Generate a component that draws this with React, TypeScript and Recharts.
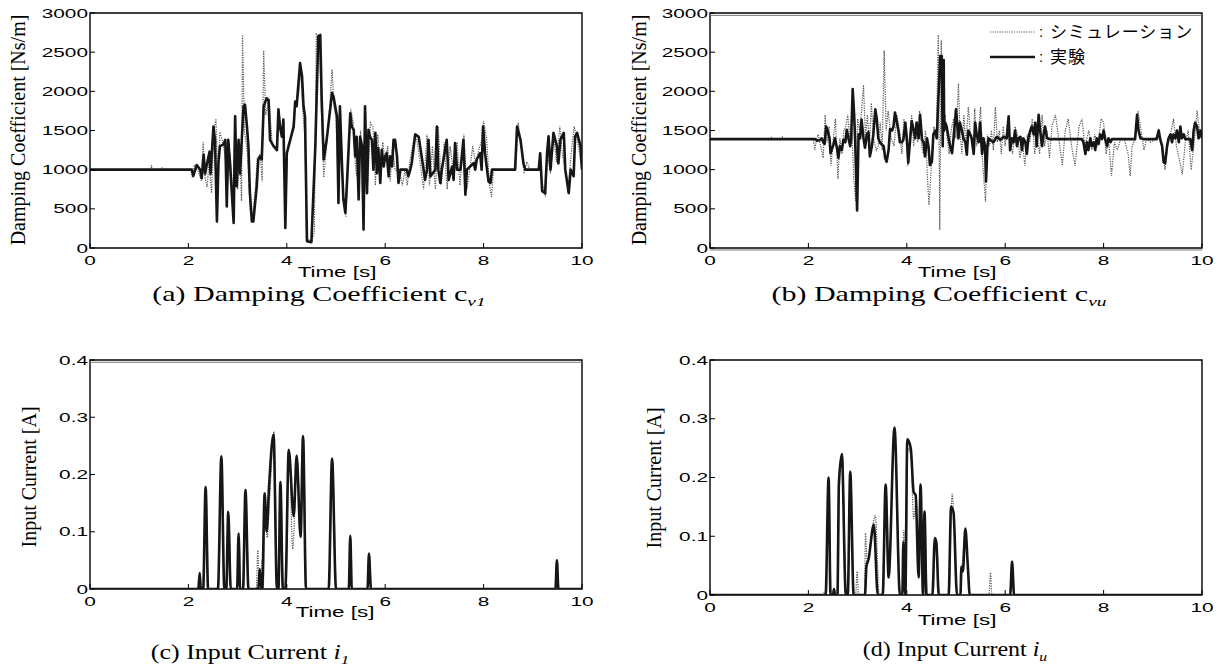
import React from "react";
import { LineChart, Line, XAxis, YAxis, ReferenceArea, ReferenceLine } from "recharts";

const timeTicks = [0, 2, 4, 6, 8, 10];
const dampingTicks = [0, 500, 1000, 1500, 2000, 2500, 3000];
const currentTicks = [0, 0.1, 0.2, 0.3, 0.4];

const legendSim = "シミュレーション";
const legendExp = "実験";

// (a) damping coefficient c_v1 : [time, value]
const simA = [
  [0, 1000], [1.24, 1000], [1.25, 1060], [1.26, 1000], [1.46, 1000], [1.47, 1030], [1.48, 1000],
  [2.05, 1000], [2.08, 900], [2.12, 1050], [2.2, 980], [2.26, 860], [2.3, 1350], [2.34, 900],
  [2.38, 780], [2.42, 1100], [2.47, 700], [2.52, 1500], [2.56, 1650], [2.6, 800], [2.64, 1480],
  [2.7, 1350], [2.75, 1150], [2.8, 800], [2.85, 1200], [2.9, 620], [2.95, 1700], [3.0, 750],
  [3.05, 1150], [3.08, 600], [3.1, 2720], [3.14, 1500], [3.2, 1200], [3.26, 450], [3.3, 380],
  [3.36, 750], [3.4, 1150], [3.46, 1200], [3.5, 850], [3.53, 2520], [3.57, 1700], [3.64, 1900],
  [3.7, 1350], [3.78, 1250], [3.84, 1750], [3.9, 1450], [3.94, 1600], [3.97, 350], [4.02, 1300],
  [4.1, 1450], [4.18, 1850], [4.24, 1950], [4.28, 2300], [4.33, 1700], [4.37, 1400], [4.4, 120],
  [4.5, 80], [4.56, 200], [4.6, 2730], [4.66, 2700], [4.7, 1800], [4.75, 900], [4.8, 1250],
  [4.86, 1700], [4.92, 2280], [4.96, 1800], [5.0, 1650], [5.04, 800], [5.1, 1500], [5.15, 650],
  [5.2, 400], [5.26, 1200], [5.3, 1780], [5.35, 1600], [5.4, 1000], [5.45, 850], [5.5, 1500],
  [5.55, 350], [5.6, 1750], [5.65, 850], [5.7, 1600], [5.75, 1550], [5.8, 800], [5.85, 1450],
  [5.9, 900], [5.95, 1350], [6.0, 1100], [6.05, 1300], [6.1, 850], [6.15, 1300], [6.2, 1000],
  [6.3, 950], [6.35, 800], [6.4, 1000], [6.45, 800], [6.5, 1100], [6.6, 1450], [6.65, 1350],
  [6.72, 1050], [6.78, 750], [6.85, 1450], [6.9, 800], [6.96, 1300], [7.02, 750], [7.08, 1550],
  [7.14, 800], [7.2, 1350], [7.26, 750], [7.32, 1300], [7.4, 900], [7.46, 1350], [7.52, 800],
  [7.6, 1450], [7.66, 750], [7.72, 1000], [7.78, 1300], [7.84, 1050], [7.9, 1250], [7.95, 1350],
  [8.0, 1620], [8.06, 1400], [8.12, 800], [8.16, 650], [8.2, 1000], [8.65, 1000], [8.7, 1600],
  [8.76, 1350], [8.82, 950], [8.88, 1100], [8.94, 1000], [9.15, 1000], [9.2, 800], [9.26, 650],
  [9.3, 1200], [9.36, 950], [9.42, 1450], [9.48, 1100], [9.55, 1550], [9.6, 1200], [9.66, 1000],
  [9.72, 800], [9.78, 1200], [9.84, 1550], [9.9, 1400], [9.95, 1200], [10, 1000],
];
const expA = [
  [0, 1000], [2.07, 1000], [2.1, 920], [2.17, 1060], [2.24, 1000], [2.27, 890], [2.31, 1190],
  [2.34, 950], [2.37, 1050], [2.43, 1230], [2.45, 950], [2.51, 1550], [2.54, 1380], [2.58, 340],
  [2.61, 1080], [2.64, 1300], [2.71, 1320], [2.75, 1380], [2.78, 530], [2.81, 1380], [2.85, 1040],
  [2.92, 320], [2.95, 1680], [2.98, 790], [3.02, 1380], [3.05, 950], [3.12, 1810], [3.15, 1830],
  [3.19, 1550], [3.22, 1300], [3.25, 700], [3.29, 340], [3.32, 340], [3.39, 790], [3.42, 1130],
  [3.46, 1170], [3.49, 1130], [3.53, 1810], [3.59, 1910], [3.63, 1890], [3.66, 1380], [3.73, 1300],
  [3.8, 1250], [3.83, 1770], [3.86, 1550], [3.9, 1420], [3.93, 1640], [3.97, 255], [4.0, 1210],
  [4.07, 1380], [4.14, 1550], [4.17, 1870], [4.2, 1810], [4.27, 2360], [4.31, 2190], [4.34, 1810],
  [4.37, 1680], [4.41, 85], [4.5, 75], [4.58, 1300], [4.64, 2700], [4.68, 2720], [4.71, 1890],
  [4.75, 1130], [4.81, 1380], [4.92, 1980], [4.95, 1930], [5.02, 1680], [5.05, 575], [5.08, 1810],
  [5.12, 1085], [5.15, 620], [5.19, 450], [5.22, 790], [5.29, 1720], [5.32, 1550], [5.36, 1510],
  [5.39, 1170], [5.42, 1420], [5.46, 620], [5.49, 1420], [5.53, 1300], [5.56, 235], [5.59, 1810],
  [5.63, 700], [5.66, 1510], [5.69, 1420], [5.73, 1380], [5.76, 1000], [5.8, 1470], [5.83, 955],
  [5.86, 1275], [5.9, 830], [5.93, 1255], [5.97, 1040], [6.0, 1170], [6.03, 1210], [6.07, 915],
  [6.1, 1170], [6.14, 1040], [6.17, 1380], [6.2, 1380], [6.24, 1170], [6.27, 830], [6.31, 1000],
  [6.44, 1000], [6.47, 915], [6.51, 1000], [6.54, 1085], [6.61, 1450], [6.68, 1420], [6.75, 1130],
  [6.78, 1000], [6.81, 870], [6.85, 1000], [6.88, 1380], [6.92, 915], [7.02, 1000], [7.05, 1550],
  [7.08, 1000], [7.12, 830], [7.15, 1000], [7.25, 1380], [7.29, 870], [7.36, 1040], [7.39, 870],
  [7.42, 1340], [7.46, 1000], [7.53, 1000], [7.59, 1380], [7.63, 680], [7.66, 1000], [7.8, 1085],
  [7.83, 1000], [7.86, 1130], [7.93, 1210], [7.96, 1000], [7.99, 1550], [8.03, 1210], [8.07, 1000],
  [8.1, 850], [8.14, 830], [8.17, 1000], [8.64, 1000], [8.68, 1550], [8.75, 1380], [8.81, 1080],
  [8.85, 1000], [9.12, 1000], [9.15, 1210], [9.19, 725], [9.25, 700], [9.29, 1210], [9.32, 1425],
  [9.36, 1000], [9.42, 1470], [9.49, 1300], [9.52, 1080], [9.56, 1380], [9.63, 1470], [9.66, 1000],
  [9.73, 700], [9.77, 1000], [9.83, 915], [9.86, 1425], [9.9, 1470], [9.97, 1300], [10, 1000],
];

// (b) damping coefficient c_vu
const simB = [
  [0, 1390], [1.24, 1390], [1.25, 1420], [1.26, 1390], [1.46, 1390], [1.47, 1410], [1.48, 1390],
  [2.1, 1390], [2.13, 1250], [2.17, 1400], [2.2, 1450], [2.25, 1300], [2.3, 1150], [2.34, 1700],
  [2.38, 1350], [2.42, 1550], [2.46, 1050], [2.5, 1350], [2.55, 1650], [2.6, 880], [2.64, 1400],
  [2.68, 1200], [2.72, 1500], [2.76, 1550], [2.8, 1700], [2.84, 1400], [2.88, 1600], [2.92, 900],
  [2.96, 600], [3.0, 1650], [3.04, 1500], [3.08, 1750], [3.12, 2080], [3.16, 1400], [3.2, 1700],
  [3.24, 1300], [3.28, 1850], [3.32, 1400], [3.38, 1250], [3.42, 1300], [3.46, 1600], [3.5, 1250],
  [3.54, 2520], [3.58, 1500], [3.62, 1750], [3.68, 1400], [3.74, 1300], [3.8, 1700], [3.86, 1450],
  [3.9, 1200], [3.94, 1650], [3.98, 1500], [4.02, 1050], [4.06, 1450], [4.1, 1700], [4.14, 1300],
  [4.18, 1600], [4.22, 1350], [4.26, 1750], [4.3, 1300], [4.34, 1200], [4.38, 1500], [4.42, 900],
  [4.45, 550], [4.5, 1050], [4.55, 1550], [4.6, 1400], [4.64, 2720], [4.67, 230], [4.7, 2650],
  [4.74, 1400], [4.78, 1700], [4.82, 1400], [4.86, 1200], [4.9, 1500], [4.95, 1650], [5.0, 1400],
  [5.05, 2100], [5.08, 1500], [5.12, 1200], [5.16, 1700], [5.2, 1300], [5.25, 1800], [5.3, 1400],
  [5.34, 1250], [5.38, 1780], [5.42, 1300], [5.46, 1500], [5.5, 1800], [5.54, 1100], [5.6, 590],
  [5.64, 1450], [5.68, 1300], [5.72, 1500], [5.76, 1250], [5.8, 1800], [5.84, 1350], [5.88, 1500],
  [5.92, 1200], [5.96, 1550], [6.0, 1300], [6.05, 1600], [6.1, 1350], [6.15, 1200], [6.2, 1550],
  [6.25, 1450], [6.3, 1150], [6.35, 1350], [6.4, 1050], [6.45, 1450], [6.5, 1350], [6.55, 1650],
  [6.6, 1200], [6.65, 1400], [6.7, 1200], [6.75, 1700], [6.8, 1300], [6.85, 1500], [6.9, 1150],
  [6.95, 1550], [7.02, 1700], [7.1, 1350], [7.16, 1050], [7.22, 1500], [7.28, 1650], [7.35, 1300],
  [7.42, 1050], [7.5, 1550], [7.56, 1650], [7.62, 1300], [7.7, 1500], [7.76, 1250], [7.82, 1450],
  [7.88, 1300], [7.95, 1650], [8.0, 1600], [8.05, 1200], [8.1, 1400], [8.16, 920], [8.22, 1350],
  [8.28, 1250], [8.35, 1400], [8.42, 1390], [8.5, 1200], [8.54, 920], [8.58, 1300], [8.64, 1390],
  [8.7, 1750], [8.76, 1500], [8.82, 1250], [8.88, 1400], [8.95, 1350], [9.05, 1390], [9.12, 1500],
  [9.18, 1300], [9.25, 1000], [9.3, 1300], [9.36, 1450], [9.42, 1650], [9.48, 1300], [9.55, 1100],
  [9.6, 940], [9.66, 1350], [9.72, 1500], [9.78, 1000], [9.85, 1400], [9.9, 1750], [9.95, 1500],
  [10, 1400],
];
const expB = [
  [0, 1390], [2.14, 1390], [2.17, 1370], [2.24, 1380], [2.27, 1400], [2.31, 1340], [2.33, 1330],
  [2.36, 1550], [2.39, 1500], [2.43, 1400], [2.45, 1210], [2.51, 1320], [2.54, 1400], [2.58, 1280],
  [2.61, 1150], [2.64, 1300], [2.68, 1250], [2.71, 1380], [2.75, 1350], [2.78, 1510], [2.81, 1410],
  [2.85, 1300], [2.87, 1400], [2.9, 2030], [2.93, 1700], [2.95, 1380], [2.99, 480], [3.02, 1450],
  [3.05, 1400], [3.08, 1640], [3.12, 1400], [3.15, 1280], [3.19, 1450], [3.22, 1480], [3.25, 1170],
  [3.29, 1300], [3.32, 1450], [3.36, 1770], [3.39, 1650], [3.42, 1400], [3.46, 1340], [3.53, 1300],
  [3.56, 1150], [3.59, 1100], [3.63, 1250], [3.66, 1520], [3.7, 1500], [3.73, 1550], [3.76, 1730],
  [3.8, 1600], [3.83, 1500], [3.86, 1350], [3.9, 1350], [3.93, 1380], [3.97, 1600], [4.0, 1400],
  [4.03, 1090], [4.07, 1400], [4.1, 1620], [4.14, 1500], [4.17, 1400], [4.2, 1600], [4.24, 1400],
  [4.27, 1700], [4.31, 1380], [4.34, 1350], [4.37, 1170], [4.41, 1400], [4.44, 1300], [4.47, 1060],
  [4.51, 1100], [4.54, 1450], [4.58, 1500], [4.61, 1400], [4.64, 1890], [4.68, 2450], [4.71, 2450],
  [4.73, 1300], [4.75, 2400], [4.76, 1500], [4.78, 1600], [4.81, 1550], [4.85, 1400], [4.88, 1300],
  [4.92, 1210], [4.95, 1400], [5.0, 1770], [5.05, 1400], [5.08, 1600], [5.12, 1500], [5.15, 1400],
  [5.19, 1350], [5.22, 1190], [5.25, 1500], [5.29, 1450], [5.32, 1400], [5.36, 1200], [5.39, 1600],
  [5.42, 1450], [5.46, 1350], [5.49, 1600], [5.53, 1200], [5.56, 1400], [5.59, 1300], [5.61, 850],
  [5.64, 1300], [5.66, 1400], [5.69, 1380], [5.76, 1350], [5.83, 1420], [5.9, 1380], [5.97, 1420],
  [6.03, 1400], [6.07, 1680], [6.1, 1250], [6.14, 1400], [6.17, 1350], [6.2, 1500], [6.24, 1300],
  [6.27, 1400], [6.31, 1420], [6.34, 1250], [6.37, 1400], [6.41, 1350], [6.44, 1200], [6.47, 1400],
  [6.51, 1500], [6.54, 1550], [6.58, 1450], [6.61, 1600], [6.64, 1300], [6.68, 1700], [6.71, 1500],
  [6.75, 1300], [6.78, 1450], [6.81, 1550], [6.85, 1400], [6.92, 1390], [7.56, 1390], [7.59, 1350],
  [7.63, 1200], [7.66, 1350], [7.69, 1250], [7.73, 1400], [7.76, 1300], [7.8, 1350], [7.83, 1250],
  [7.86, 1400], [7.9, 1330], [7.93, 1450], [7.97, 1390], [8.0, 1500], [8.03, 1400], [8.07, 1300],
  [8.1, 1400], [8.14, 1350], [8.17, 1390], [8.64, 1390], [8.68, 1700], [8.71, 1500], [8.75, 1400],
  [8.81, 1390], [9.08, 1390], [9.12, 1500], [9.15, 1390], [9.19, 1300], [9.22, 1100], [9.25, 1080],
  [9.29, 1300], [9.32, 1400], [9.36, 1450], [9.39, 1350], [9.42, 1450], [9.46, 1400], [9.49, 1500],
  [9.53, 1350], [9.56, 1550], [9.59, 1400], [9.63, 1450], [9.66, 1390], [9.76, 1390], [9.8, 1250],
  [9.83, 1500], [9.86, 1600], [9.9, 1550], [9.93, 1400], [9.97, 1500], [10, 1400],
];

// (c) input current i_1
const simC = [
  [0, 0], [2.21, 0], [2.24, 0.025], [2.26, 0], [2.31, 0], [2.36, 0.17], [2.41, 0], [2.61, 0],
  [2.68, 0.225], [2.74, 0], [2.78, 0], [2.82, 0.13], [2.87, 0], [3.0, 0], [3.03, 0.09], [3.06, 0],
  [3.12, 0], [3.17, 0.165], [3.23, 0], [3.38, 0], [3.41, 0.068], [3.44, 0], [3.47, 0], [3.5, 0.05],
  [3.52, 0], [3.56, 0.15], [3.6, 0.09], [3.66, 0.17], [3.74, 0.275], [3.81, 0], [3.84, 0],
  [3.88, 0.18], [3.93, 0], [3.98, 0], [4.05, 0.235], [4.12, 0.07], [4.21, 0.225], [4.29, 0.1],
  [4.34, 0.26], [4.4, 0], [4.86, 0], [4.93, 0.22], [5.01, 0], [5.27, 0], [5.3, 0.09], [5.33, 0],
  [5.65, 0], [5.68, 0.058], [5.72, 0], [9.47, 0], [9.5, 0.045], [9.53, 0], [10, 0],
];
const expC = [
  [0, 0], [2.2, 0], [2.23, 0.028], [2.25, 0], [2.3, 0], [2.35, 0.178], [2.4, 0], [2.6, 0],
  [2.67, 0.232], [2.73, 0], [2.77, 0], [2.81, 0.135], [2.86, 0], [2.99, 0], [3.02, 0.097],
  [3.05, 0], [3.11, 0], [3.16, 0.173], [3.22, 0], [3.42, 0], [3.45, 0.035], [3.48, 0], [3.5, 0],
  [3.55, 0.167], [3.59, 0.1], [3.64, 0.18], [3.73, 0.27], [3.8, 0], [3.83, 0], [3.87, 0.187],
  [3.92, 0], [3.97, 0], [4.04, 0.243], [4.14, 0.127], [4.2, 0.233], [4.28, 0.091], [4.33, 0.267],
  [4.39, 0], [4.85, 0], [4.92, 0.228], [5.0, 0], [5.26, 0], [5.29, 0.093], [5.32, 0], [5.64, 0],
  [5.67, 0.062], [5.71, 0], [9.46, 0], [9.49, 0.05], [9.52, 0], [10, 0],
];

// (d) input current i_u
const simD = [
  [0, 0], [2.3, 0], [2.32, 0.005], [2.36, 0], [2.42, 0.19], [2.46, 0], [2.6, 0], [2.63, 0.185],
  [2.69, 0.235], [2.77, 0], [2.81, 0], [2.86, 0.195], [2.93, 0], [2.96, 0], [2.99, 0.04], [3.02, 0],
  [3.14, 0], [3.16, 0.105], [3.2, 0.05], [3.25, 0.08], [3.36, 0.135], [3.44, 0], [3.52, 0],
  [3.58, 0.175], [3.64, 0.05], [3.75, 0.28], [3.87, 0], [3.9, 0], [3.94, 0.11], [3.98, 0],
  [4.02, 0.25], [4.08, 0.24], [4.14, 0.13], [4.19, 0.16], [4.25, 0.04], [4.28, 0.17], [4.34, 0],
  [4.37, 0.13], [4.41, 0], [4.53, 0], [4.58, 0.09], [4.61, 0.085], [4.66, 0], [4.86, 0],
  [4.92, 0.172], [4.96, 0.13], [5.03, 0], [5.1, 0], [5.12, 0.04], [5.2, 0.105], [5.25, 0.03],
  [5.29, 0], [5.67, 0], [5.7, 0.038], [5.73, 0], [6.11, 0], [6.15, 0.05], [6.19, 0], [10, 0],
];
const expD = [
  [0, 0], [2.35, 0], [2.41, 0.2], [2.45, 0], [2.5, 0], [2.52, 0.01], [2.54, 0], [2.59, 0],
  [2.62, 0.19], [2.68, 0.24], [2.76, 0], [2.8, 0], [2.85, 0.21], [2.92, 0], [3.15, 0], [3.18, 0.05],
  [3.22, 0.06], [3.33, 0.12], [3.41, 0], [3.51, 0], [3.57, 0.188], [3.63, 0.03], [3.75, 0.285],
  [3.86, 0], [3.91, 0], [3.93, 0.09], [3.97, 0], [4.01, 0.265], [4.08, 0.25], [4.14, 0.175],
  [4.18, 0.17], [4.24, 0.03], [4.28, 0.188], [4.33, 0], [4.36, 0.142], [4.4, 0], [4.52, 0],
  [4.57, 0.097], [4.6, 0.09], [4.65, 0], [4.85, 0], [4.9, 0.15], [4.95, 0.14], [5.02, 0], [5.09, 0],
  [5.11, 0.048], [5.14, 0.04], [5.19, 0.113], [5.24, 0.05], [5.28, 0], [6.1, 0], [6.14, 0.057],
  [6.18, 0], [10, 0],
];

const toPoints = (rows: number[][]) => rows.map(([t, v]) => ({ t, v }));

const SANS = "'Liberation Sans', Arial, sans-serif";
const SERIF = "'Liberation Serif', 'Times New Roman', serif";
const JP = "'Noto Sans CJK JP', sans-serif";

// MATLAB style: ticks point inside, labels are wide helvetica
const BottomTick = ({ x, y, payload }: any) => (
  <g>
    <line x1={x} x2={x} y1={y} y2={y - 5} stroke="#000" />
    <text transform={`translate(${x},${y + 17}) scale(1.6,1)`} textAnchor="middle"
      fontSize={13} fontFamily={SANS} fill="#000">{payload.value}</text>
  </g>
);
const LeftTick = ({ x, y, payload }: any) => (
  <g>
    <line x1={x} x2={x + 5} y1={y} y2={y} stroke="#000" />
    <text transform={`translate(${x - 2},${y + 4.6}) scale(1.6,1)`} textAnchor="end"
      fontSize={13} fontFamily={SANS} fill="#000">{payload.value}</text>
  </g>
);
const TopTick = ({ x, y }: any) => <line x1={x} x2={x} y1={y} y2={y + 5} stroke="#000" />;
const RightTick = ({ x, y }: any) => <line x1={x} x2={x - 5} y1={y} y2={y} stroke="#000" />;

type PanelProps = {
  left: number;
  top: number;
  width: number;
  height: number;
  margin: { top: number; right: number; bottom: number; left: number };
  yMax: number;
  yTicks: number[];
  sim: number[][];
  exp: number[][];
  curve: "linear" | "monotone";
  edgeLines?: number[]; // faint second rule next to the frame, as in the scanned figure
};

// every axis is 1px thick so that recharts still renders its ticks; margins are reduced by 1
const Panel = ({ left, top, width, height, margin, yMax, yTicks, sim, exp, curve, edgeLines = [] }: PanelProps) => (
  <div style={{ position: "absolute", left, top }}>
    <LineChart width={width} height={height}
      margin={{ top: margin.top - 1, right: margin.right - 1, bottom: margin.bottom - 1, left: margin.left - 1 }}>
      <XAxis type="number" dataKey="t" domain={[0, 10]} ticks={timeTicks} interval={0}
        height={1} tickSize={0} tickMargin={0} axisLine={false} tickLine={false}
        tick={(p: any) => <BottomTick {...p} />} allowDataOverflow />
      <XAxis xAxisId="top" orientation="top" type="number" dataKey="t" domain={[0, 10]}
        ticks={timeTicks} interval={0} height={1} tickSize={0} tickMargin={0}
        axisLine={false} tickLine={false} tick={(p: any) => <TopTick {...p} />} />
      <YAxis type="number" domain={[0, yMax]} ticks={yTicks} interval={0} width={1}
        tickSize={0} tickMargin={0} axisLine={false} tickLine={false}
        tick={(p: any) => <LeftTick {...p} />} allowDataOverflow />
      <YAxis yAxisId="right" orientation="right" type="number" domain={[0, yMax]} ticks={yTicks}
        interval={0} width={1} tickSize={0} tickMargin={0} axisLine={false} tickLine={false}
        tick={(p: any) => <RightTick {...p} />} />
      <Line data={toPoints(sim)} dataKey="v" type={curve} stroke="#555" strokeWidth={1.2}
        strokeDasharray="1.2 1.2" dot={false} activeDot={false} isAnimationActive={false} />
      <Line data={toPoints(exp)} dataKey="v" type={curve} stroke="#161616" strokeWidth={2.6}
        strokeLinejoin="round" dot={false} activeDot={false} isAnimationActive={false} />
      {edgeLines.map((v) => (
        <ReferenceLine key={v} y={v} stroke="#777" strokeWidth={1} ifOverflow="visible" />
      ))}
      <ReferenceArea x1={0} x2={10} y1={0} y2={yMax} fill="none" stroke="#000" strokeWidth={1.4} />
    </LineChart>
  </div>
);

const YTitle = ({ cx, cy, text }: { cx: number; cy: number; text: string }) => (
  <text transform={`translate(${cx},${cy}) rotate(-90)`} textAnchor="middle"
    dominantBaseline="central" fontSize={20} fontFamily={SERIF} fill="#000">{text}</text>
);
const XTitle = ({ cx, y }: { cx: number; y: number }) => (
  <text transform={`translate(${cx},${y}) scale(1.6,1)`} textAnchor="middle"
    fontSize={14} fontFamily={SANS} fill="#000">Time [s]</text>
);

export default function App() {
  return (
    <div style={{ position: "absolute", left: 0, top: 0, width: 1226, height: 670, background: "#fff" }}>
      <Panel left={0} top={0} width={613} height={310}
        margin={{ top: 13, right: 31, bottom: 62, left: 90 }}
        yMax={3000} yTicks={dampingTicks} sim={simA} exp={expA} curve="linear" />
      <Panel left={620} top={0} width={606} height={310}
        margin={{ top: 13, right: 24, bottom: 62, left: 90 }}
        yMax={3000} yTicks={dampingTicks} sim={simB} exp={expB} curve="linear"
        edgeLines={[2970, -25]} />
      <Panel left={0} top={347} width={613} height={300}
        margin={{ top: 13, right: 31, bottom: 58, left: 90 }}
        yMax={0.4} yTicks={currentTicks} sim={simC} exp={expC} curve="monotone"
        edgeLines={[0.396]} />
      <Panel left={620} top={347} width={606} height={300}
        margin={{ top: 13, right: 24, bottom: 52, left: 90 }}
        yMax={0.4} yTicks={currentTicks} sim={simD} exp={expD} curve="monotone" />

      <svg width={1226} height={670} style={{ position: "absolute", left: 0, top: 0, pointerEvents: "none" }}>
        <YTitle cx={18} cy={130} text="Damping Coefficient [Ns/m]" />
        <YTitle cx={639} cy={130} text="Damping Coefficient [Ns/m]" />
        <YTitle cx={29} cy={477} text="Input Current [A]" />
        <YTitle cx={654} cy={478} text="Input Current [A]" />

        <XTitle cx={337} y={277} />
        <XTitle cx={957} y={277} />
        <XTitle cx={335} y={617} />
        <XTitle cx={957} y={625} />

        {/* legend of (b) */}
        <line x1={990} x2={1035} y1={32} y2={32} stroke="#555" strokeWidth={1.2} strokeDasharray="1.2 1.2" />
        <line x1={990} x2={1035} y1={57} y2={57} stroke="#161616" strokeWidth={2.6} />
        <text x={1039} y={37} fontSize={15} fontFamily={SANS} fill="#000">:</text>
        <text x={1039} y={62} fontSize={15} fontFamily={SANS} fill="#000">:</text>
        <text x={1050} y={38} fontSize={17} letterSpacing={1} fontFamily={JP} fill="#000">{legendSim}</text>
        <text x={1050} y={63} fontSize={17} letterSpacing={1} fontFamily={JP} fill="#000">{legendExp}</text>

        {/* captions */}
        <text transform="translate(319,301) scale(1.5,1)" textAnchor="middle" fontSize={20} fontFamily={SERIF} fill="#000">
          (a) Damping Coefficient c<tspan fontSize={13} fontStyle="italic" dy={5}>v1</tspan>
        </text>
        <text transform="translate(939,301) scale(1.5,1)" textAnchor="middle" fontSize={20} fontFamily={SERIF} fill="#000">
          (b) Damping Coefficient c<tspan fontSize={13} fontStyle="italic" dy={5}>vu</tspan>
        </text>
        <text transform="translate(250,659) scale(1.3,1)" textAnchor="middle" fontSize={20} fontFamily={SERIF} fill="#000">
          (c) Input Current <tspan fontStyle="italic">i</tspan><tspan fontSize={13} fontStyle="italic" dy={5}>1</tspan>
        </text>
        <text transform="translate(955,656) scale(1.2,1)" textAnchor="middle" fontSize={20} fontFamily={SERIF} fill="#000">
          (d) Input Current <tspan fontStyle="italic">i</tspan><tspan fontSize={13} fontStyle="italic" dy={5}>u</tspan>
        </text>
      </svg>
    </div>
  );
}
